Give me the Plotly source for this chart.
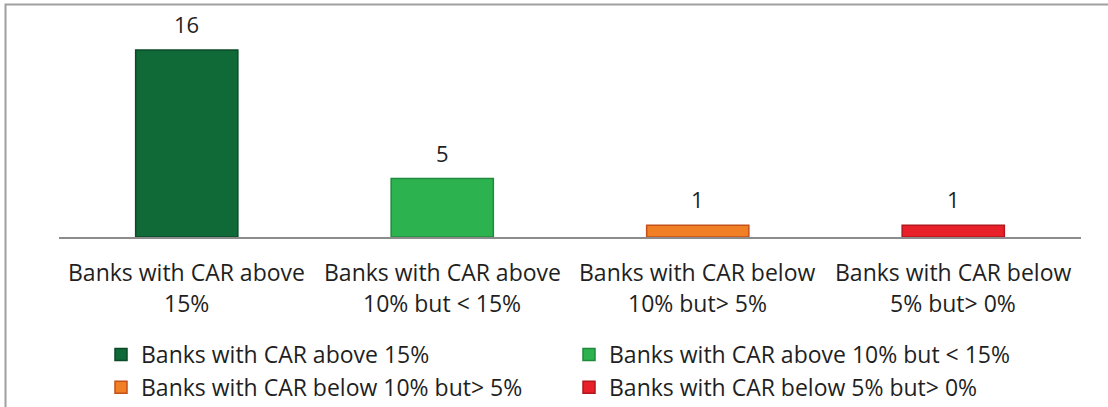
import plotly.graph_objects as go

categories = [
    "Banks with CAR above 15%",
    "Banks with CAR above 10% but < 15%",
    "Banks with CAR below 10% but> 5%",
    "Banks with CAR below 5% but> 0%",
]
label_line1 = ["Banks with CAR above", "Banks with CAR above", "Banks with CAR below", "Banks with CAR below"]
label_line2 = ["15%", "10% but < 15%", "10% but> 5%", "5% but> 0%"]
values = [16, 5, 1, 1]
colors = ["#106a38", "#2cb34f", "#f07f25", "#e8202a"]
edge_colors = ["#0a4a27", "#1f8a3c", "#c4501a", "#b3161d"]

W, H = 1108, 407
L, R, T, B = 59, W - 1081, 20, H - 237
plot_h = H - T - B
ymax = plot_h / 11.69

def py(p):
    return (237 - p) / plot_h

def px(p):
    return (p - L) / (W - L - R)

FONT = "Open Sans"
TXT = "#1f1f1f"

fig = go.Figure()
for i, cat in enumerate(categories):
    fig.add_trace(go.Bar(
        x=[i], y=[values[i]], name=cat, width=0.4,
        marker=dict(color=colors[i], line=dict(color=edge_colors[i], width=1.5)),
        hoverinfo="skip",
    ))

annotations = []
for i, v in enumerate(values):
    annotations.append(dict(x=i, y=v, xref="x", yref="y", text=str(v), showarrow=False,
                            yanchor="bottom", yshift=9, font=dict(size=22, color=TXT, family=FONT)))
    annotations.append(dict(x=i, y=py(272), xref="x", yref="paper", text=label_line1[i], showarrow=False,
                            yanchor="middle", font=dict(size=23, color=TXT, family=FONT)))
    annotations.append(dict(x=i, y=py(303), xref="x", yref="paper", text=label_line2[i], showarrow=False,
                            yanchor="middle", font=dict(size=23, color=TXT, family=FONT)))

fig.update_layout(
    width=W, height=H,
    margin=dict(l=L, r=R, t=T, b=B, autoexpand=False),
    paper_bgcolor="white", plot_bgcolor="white",
    barmode="overlay",
    xaxis=dict(range=[-0.5, 3.5], showticklabels=False, showgrid=False, zeroline=False,
               showline=True, linecolor="#8c8c8c", linewidth=2, ticks=""),
    yaxis=dict(range=[0, ymax], visible=False),
    showlegend=True,
    legend=dict(orientation="h", x=px(101), y=py(333), xanchor="left", yanchor="top",
                entrywidth=423, entrywidthmode="pixels", traceorder="normal",
                font=dict(size=23, color=TXT, family=FONT), bgcolor="rgba(0,0,0,0)"),
    annotations=annotations,
    shapes=[dict(type="rect", xref="paper", yref="paper",
                 x0=px(5.5), x1=px(1125), y0=py(4.5), y1=py(430),
                 line=dict(color="#a0a0a0", width=2), fillcolor="rgba(0,0,0,0)", layer="below")],
    font=dict(family=FONT, color=TXT),
)

fig.write_html("out.html", config={"displayModeBar": False},
               post_script="document.body.style.margin='0px';document.body.style.overflow='hidden';")
